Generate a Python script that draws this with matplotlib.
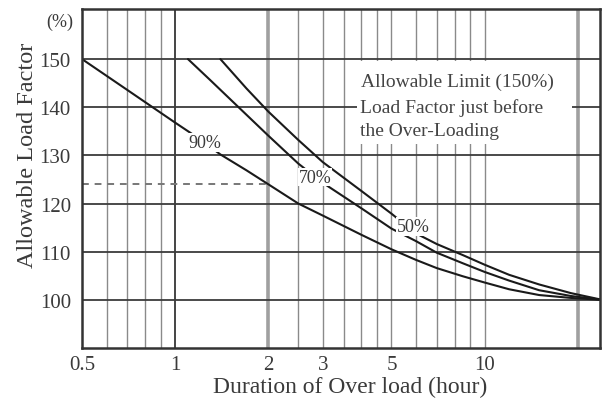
import matplotlib
matplotlib.use("Agg")
import matplotlib.pyplot as plt
from matplotlib.patches import Rectangle

# ---- data ----
x90 = [0.5, 0.7, 1.0, 1.2, 1.4, 1.7, 2.0, 2.5, 3.0, 4.0, 5.0, 6.0, 7.0,
       8.5, 10, 12, 15, 19, 24]
y90 = [150, 143.6, 136.8, 133.4, 130.2, 126.9, 124.0, 120.0, 117.5,
       113.5, 110.5, 108.3, 106.6, 104.9, 103.6, 102.2, 101.0, 100.4, 100]
x70 = [1.1, 1.3, 1.55, 2.0, 2.5, 3.0, 4.0, 5.0, 6.0, 7.0, 8.5, 10, 12, 15, 19, 24]
y70 = [150, 145.6, 140.9, 134.1, 128.3, 124.3, 119.0, 114.8, 112.2, 109.8, 107.6,
       105.8, 104.0, 102.0, 100.8, 100]
x50 = [1.4, 1.7, 2.0, 2.5, 3.0, 4.0, 5.0, 6.0, 7.0, 8.5, 10, 12, 15, 19, 24]
y50 = [150, 143.9, 139.1, 133.2, 128.6, 122.6, 117.9, 113.8, 111.6, 109.3, 107.3,
       105.2, 103.2, 101.4, 100]
ref_x = [0.5, 2.0]
ref_y = [124.0, 124.0]

x_ticks = [0.5, 1, 2, 3, 5, 10]
x_tick_labels = ["0.5", "1", "2", "3", "5", "10"]
y_ticks = [100, 110, 120, 130, 140, 150]
y_tick_labels = ["100", "110", "120", "130", "140", "150"]
grid_thin = [0.6, 0.7, 0.8, 0.9, 2.5, 3, 3.5, 4, 4.5, 5, 6, 7, 8, 9, 10]
grid_dark = [1]
grid_thick = [2, 20]

curve_labels = ["90%", "70%", "50%"]
label_x = [1.25, 2.83, 5.9]
label_y = [132.6, 125.5, 115.2]

note_lines = ["Allowable Limit (150%)", "Load Factor just before", "the Over-Loading"]

FONT = "Liberation Serif"
TXT = "#3a3a3a"

fig = plt.figure(figsize=(6.02, 4.06), dpi=100)
ax = fig.add_axes([82/602, 1 - 349/406, (600-82)/602, (349-10)/406])
ax.set_xscale("log")
ax.set_xlim(0.5, 23.6)
ax.set_ylim(90, 160.4)

# grid
for g in grid_thin:
    ax.axvline(g, color="#8a8a8a", lw=1.0, zorder=1)
for g in grid_dark:
    ax.axvline(g, color="#444444", lw=1.4, zorder=1)
for g in grid_thick:
    ax.axvline(g, color="#a0a0a0", lw=2.6, zorder=1)
for g in y_ticks:
    ax.axhline(g, color="#3c3c3c", lw=1.3, zorder=1)

# dashed reference line
ax.plot(ref_x, ref_y, color="#777777", lw=1.4, ls=(0, (3.5, 3)), zorder=2)

# note box
ax.add_patch(Rectangle((3.88, 132.4), 19.2 - 3.88, 149.6 - 132.4,
                       facecolor="white", edgecolor="none", zorder=3))
for i, (t, yy) in enumerate(zip(note_lines, [145.4, 140.0, 135.1])):
    ax.text(3.99 if i == 0 else 3.95, yy, t, fontsize=14, family=FONT,
            color="#444444", va="center", ha="left", zorder=4)

# curves
for xs, ys in [(x90, y90), (x70, y70), (x50, y50)]:
    ax.plot(xs, ys, color="#1a1a1a", lw=1.5, zorder=5,
            solid_joinstyle="round", solid_capstyle="round")

for t, lx, ly in zip(curve_labels, label_x, label_y):
    ax.text(lx, ly, t, fontsize=13, family=FONT, color=TXT, ha="center",
            va="center", zorder=6,
            bbox=dict(facecolor="white", edgecolor="none", pad=0.6))

# axes
ax.set_xticks(x_ticks)
ax.set_xticklabels(x_tick_labels)
ax.xaxis.set_minor_locator(matplotlib.ticker.NullLocator())
ax.set_yticks(y_ticks)
ax.set_yticklabels(y_tick_labels)
ax.tick_params(length=0, labelsize=15, labelcolor=TXT)
ax.tick_params(axis="x", pad=5)
ax.tick_params(axis="y", pad=8)
for lab in ax.get_xticklabels() + ax.get_yticklabels():
    lab.set_family(FONT)
for s in ax.spines.values():
    s.set_linewidth(1.8)
    s.set_color("#333333")
    s.set_zorder(7)

ax.text(-0.017, 157.9, "(%)", transform=ax.get_yaxis_transform(), fontsize=13,
        family=FONT, color=TXT, ha="right", va="center")
ax.set_xlabel("Duration of Over load (hour)", fontsize=17, family=FONT,
              color=TXT)
ax.xaxis.label.set_va("center")
ax.xaxis.set_label_coords(0.517, -0.112)
ax.set_ylabel("Allowable Load Factor", fontsize=17.5, family=FONT, color=TXT)
ax.yaxis.label.set_va("center")
ax.yaxis.set_label_coords(-0.106, 0.571)

fig.savefig("out.png", dpi=100)
